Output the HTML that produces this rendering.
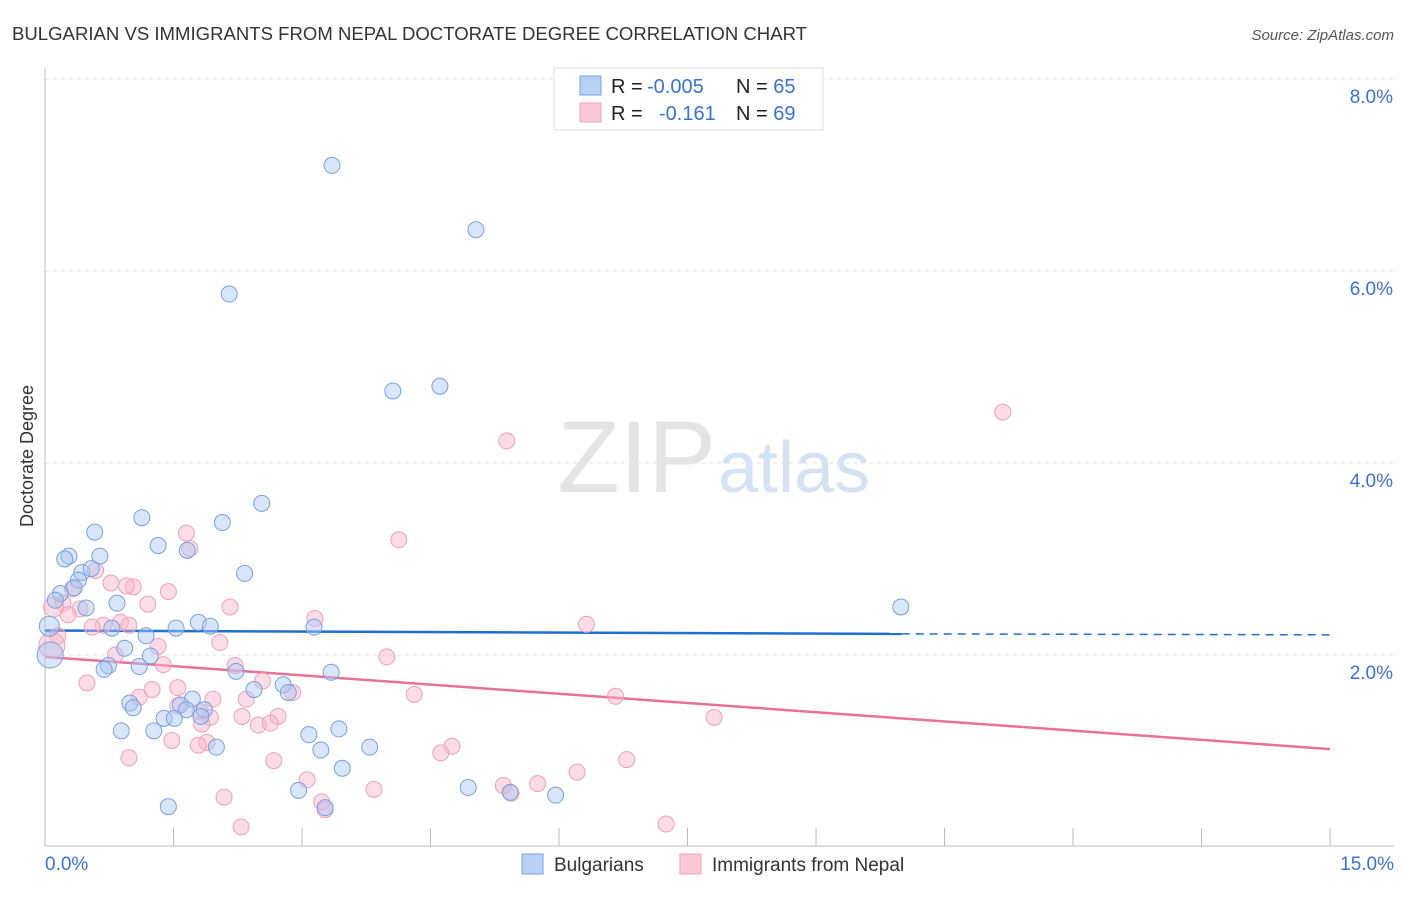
<!DOCTYPE html>
<html><head><meta charset="utf-8"><style>
body{margin:0;background:#fff;font-family:"Liberation Sans",sans-serif}
svg text{font-family:"Liberation Sans",sans-serif}
</style></head><body>
<svg id="chart" width="1406" height="892">
<text x="12" y="40" font-size="18" fill="#333" textLength="795" lengthAdjust="spacingAndGlyphs">BULGARIAN VS IMMIGRANTS FROM NEPAL DOCTORATE DEGREE CORRELATION CHART</text>
<text x="1394" y="40" font-size="15" fill="#555" font-style="italic" text-anchor="end">Source: ZipAtlas.com</text>
<text x="33" y="456" font-size="18" fill="#333" text-anchor="middle" transform="rotate(-90 33 456)">Doctorate Degree</text>
<g id="grid"></g>
<text x="716" y="492" font-size="102" fill="#e4e4e4" text-anchor="end" font-family="Liberation Serif">ZIP</text>
<text x="718" y="492" font-size="72" fill="#d6e2f4">atlas</text>
<g id="lines"></g>
<g id="pts"></g>
<g>
<rect x="554" y="68" width="269" height="62" fill="#fff" stroke="#ddd"/>
<rect x="580" y="76" width="21" height="19" fill="#b8d0f4" stroke="#7aa0e0"/>
<rect x="580" y="103" width="21" height="19" fill="#fbc8d6" stroke="#f0a0b8"/>
<text x="611" y="93" font-size="20" fill="#222">R = <tspan fill="#3a72d0" x="647">-0.005</tspan><tspan x="736">N = </tspan><tspan fill="#3a72d0">65</tspan></text>
<text x="611" y="120" font-size="20" fill="#222">R = <tspan fill="#3a72d0" x="659">-0.161</tspan><tspan x="736">N = </tspan><tspan fill="#3a72d0">69</tspan></text>
</g>
<g>
<rect x="522" y="854" width="21" height="20" fill="#b8d0f4" stroke="#7aa0e0"/>
<text x="554" y="871" font-size="19" fill="#333">Bulgarians</text>
<rect x="680" y="854" width="21" height="20" fill="#fbc8d6" stroke="#f0a0b8"/>
<text x="712" y="871" font-size="19" fill="#333">Immigrants from Nepal</text>
</g>
</svg>
<script>
const yTicks=[2,4,6,8];
const xTickLabels=["0.0%","15.0%"];
const blueX=[3.35,5.03,2.15,4.06,4.61,2.53,1.13,2.07,0.58,1.32,1.66,0.28,0.23,0.64,2.33,0.43,0.54,0.39,0.34,0.18,0.12,0.84,0.48,9.99,1.79,1.93,1.53,0.78,3.14,1.18,0.93,1.23,0.74,0.69,1.10,2.23,3.34,2.44,2.78,2.84,1.72,0.99,1.03,1.58,1.65,1.86,1.82,1.39,1.51,0.89,1.27,3.43,3.08,2.00,3.22,3.79,3.47,4.94,2.96,5.43,5.96,1.44,3.27,0.06,0.05];
const blueY=[7.10,6.43,5.76,4.75,4.80,3.58,3.43,3.38,3.28,3.14,3.09,3.03,3.00,3.03,2.85,2.86,2.90,2.78,2.70,2.64,2.57,2.54,2.49,2.50,2.34,2.30,2.28,2.28,2.29,2.20,2.07,1.99,1.89,1.85,1.88,1.83,1.82,1.64,1.69,1.61,1.54,1.50,1.45,1.48,1.43,1.43,1.36,1.34,1.34,1.21,1.21,1.23,1.17,1.04,1.01,1.04,0.82,0.62,0.59,0.57,0.54,0.42,0.41,2.0,2.3];
const pinkX=[11.18,5.39,4.13,1.65,1.69,0.59,0.77,1.03,0.95,1.44,0.32,1.20,2.16,0.21,0.41,0.27,3.15,6.32,0.88,0.68,0.98,0.55,0.15,2.04,1.32,0.82,3.99,1.38,2.22,2.54,0.49,1.25,1.55,2.89,4.31,6.66,1.10,1.96,2.35,1.55,1.81,2.72,1.93,2.30,7.81,1.83,2.49,2.63,1.48,1.89,1.79,4.75,4.62,0.98,2.67,6.79,6.21,3.06,5.35,5.75,3.84,5.44,2.09,3.23,3.27,2.29,7.25,0.08,0.10];
const pinkY=[4.53,4.23,3.20,3.27,3.11,2.88,2.75,2.71,2.72,2.66,2.69,2.53,2.50,2.54,2.48,2.42,2.38,2.32,2.34,2.31,2.31,2.29,2.20,2.13,2.09,2.00,1.98,1.90,1.89,1.73,1.71,1.64,1.66,1.61,1.59,1.57,1.56,1.54,1.54,1.47,1.41,1.36,1.35,1.36,1.35,1.28,1.27,1.29,1.11,1.09,1.06,1.05,0.98,0.93,0.90,0.91,0.78,0.70,0.64,0.66,0.60,0.56,0.52,0.47,0.39,0.21,0.24,2.10,2.5];
const blueTrend=[2.255,2.22,2.21];const blueTrendX=[0,10.0,15];
const pinkTrend=[1.98,1.02];
const X=v=>45+v*85.67, Y=v=>847-v*96;
const NS="http://www.w3.org/2000/svg";
function mk(t,a,p){const e=document.createElementNS(NS,t);for(const k in a)e.setAttribute(k,a[k]);p.appendChild(e);return e;}
const grid=document.getElementById('grid');
yTicks.forEach(t=>{
 const l=mk('line',{x1:45,x2:1394,y1:Y(t),y2:Y(t),stroke:'#e2e2e2','stroke-dasharray':'4,4'},grid);
 
 
 const tx=mk('text',{x:1393,y:Y(t)+24,'font-size':19,fill:'#3a72d0','text-anchor':'end'},grid);tx.textContent=t.toFixed(1)+'%';
 
 
});
mk('line',{x1:45,x2:45,y1:68,y2:846,stroke:'#bbb'},grid);
mk('line',{x1:45,x2:1394,y1:846,y2:846,stroke:'#bbb'},grid);
for(let i=0;i<=10;i++){mk('line',{x1:X(i*1.5),x2:X(i*1.5),y1:828,y2:846,stroke:'#bbb'},grid);}
[[0,'start',45],[15,'end',1394]].forEach((d,i)=>{const t=mk('text',{x:d[2],y:870,'font-size':19,fill:'#3a72d0','text-anchor':d[1]},grid);t.textContent=xTickLabels[i];
 
 });
const pts=document.getElementById('pts');
function dots(xs,ys,f,s,name){xs.forEach((x,i)=>{const big=i>=xs.length-2&&x<0.2;const c=mk('circle',{cx:X(x),cy:Y(ys[i]),r:big?(i==xs.length-2?13:10):8,fill:f,stroke:s,'stroke-width':1},pts);
 
 });}
dots(pinkX,pinkY,'rgba(248,180,202,0.45)','#f0a0b8','nepal-point');
dots(blueX,blueY,'rgba(170,198,242,0.45)','#7aa0e0','bulgarian-point');
const lines=document.getElementById('lines');
const bl=mk('line',{x1:X(blueTrendX[0]),y1:Y(blueTrend[0]),x2:X(blueTrendX[1]),y2:Y(blueTrend[1]),stroke:'#1f6fd0','stroke-width':2.5},lines);


const bd=mk('line',{x1:X(blueTrendX[1]),y1:Y(blueTrend[1]),x2:X(blueTrendX[2]),y2:Y(blueTrend[2]),stroke:'#1f6fd0','stroke-width':1.5,'stroke-dasharray':'8,6'},lines);


const pl=mk('line',{x1:X(0),y1:Y(pinkTrend[0]),x2:X(15),y2:Y(pinkTrend[1]),stroke:'#e8709a','stroke-width':2.5},lines);


</script>
</body></html>
